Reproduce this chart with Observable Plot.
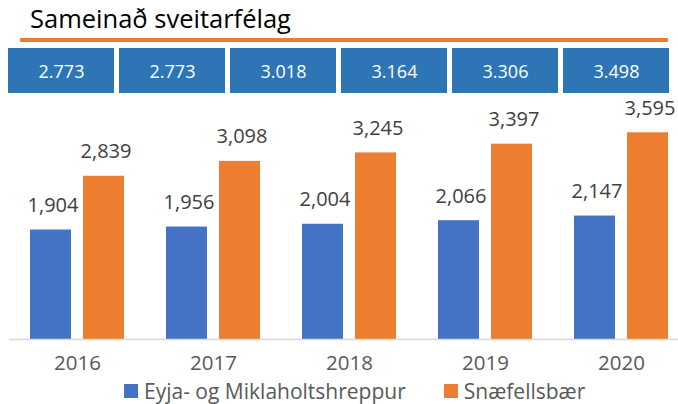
<!DOCTYPE html>
<html>
<head>
<meta charset="utf-8">
<script src="https://cdn.jsdelivr.net/npm/d3@7"></script>
<script src="https://cdn.jsdelivr.net/npm/@observablehq/plot@0.6"></script>
<style>
  html, body { margin: 0; padding: 0; background: #fff; }
  #wrap { position: relative; width: 678px; height: 404px; overflow: hidden; font-family: 'Open Sans', sans-serif; }
  #title { position: absolute; left: 20px; top: 3px; width: 638px; height: 30px; padding: 0 0 5px 10px;
           font-size: 25.5px; line-height: 30px; color: #000; border-bottom: 4px solid #ED7D31; white-space: nowrap; }
  #boxes { position: absolute; left: 0; top: 44px; }
  #chart { position: absolute; left: 0; top: 96px; }
  #legend { position: absolute; left: 124px; top: 381px; }
  #legend > div { font-family: 'Open Sans', sans-serif !important; font-size: 21px !important; color: #595959 !important;
                  display: flex !important; align-items: center !important; margin: 0 !important; min-height: 0 !important;
                  line-height: 20px !important; flex-wrap: nowrap !important; }
  #legend span { display: inline-flex !important; align-items: center !important; margin: 0 38px 0 0 !important; line-height: 20px !important; white-space: nowrap; }
  #legend svg { margin-right: 6px !important; }
</style>
</head>
<body>
<div id="wrap">
  <div id="title"></div>
  <div id="boxes"></div>
  <div id="chart"></div>
  <div id="legend"></div>
</div>
<script>
const titleText = "Sameinað sveitarfélag";
const years = ["2016", "2017", "2018", "2019", "2020"];
const series = ["Eyja- og Miklaholtshreppur", "Snæfellsbær"];
const eyja = [1904, 1956, 2004, 2066, 2147];
const snae = [2839, 3098, 3245, 3397, 3595];
const combined = [2773, 2773, 3018, 3164, 3306, 3498];
const colors = ["#4472C4", "#ED7D31"];

document.getElementById("title").textContent = titleText;

const isFormat = d3.formatLocale({decimal: ",", thousands: ".", grouping: [3], currency: ["", ""]}).format(",");
const enFormat = d3.format(",");

// Top row of boxes
const boxData = combined.map((v, i) => ({i: String(i), v}));
const boxes = Plot.plot({
  width: 678, height: 52,
  marginTop: 4, marginBottom: 3, marginLeft: 7, marginRight: 8,
  style: {fontFamily: "'Open Sans', sans-serif", background: "transparent"},
  x: {type: "band", domain: boxData.map(d => d.i), paddingInner: 0.045, paddingOuter: 0, axis: null},
  marks: [
    Plot.cell(boxData, {x: "i", fill: "#2E75B6"}),
    Plot.text(boxData, {x: "i", text: d => isFormat(d.v), frameAnchor: "middle", fill: "white", fontSize: 18, dy: 1})
  ]
});
document.getElementById("boxes").appendChild(boxes);

// Main grouped bars
const data = [];
years.forEach((y, k) => {
  data.push({year: y, series: series[0], value: eyja[k]});
  data.push({year: y, series: series[1], value: snae[k]});
});

const chart = Plot.plot({
  width: 678, height: 308,
  marginTop: 13, marginBottom: 65, marginLeft: 9, marginRight: -11,
  style: {fontFamily: "'Open Sans', sans-serif", fontSize: "20.5px", color: "#595959", background: "transparent", overflow: "visible"},
  facet: {data, x: "year"},
  fx: {domain: years, padding: 0, axis: "bottom", tickSize: 0, tickPadding: 16, label: null},
  x: {domain: series, paddingInner: 0.217, paddingOuter: 0.39, axis: null},
  y: {domain: [0, 4000], axis: null},
  color: {domain: series, range: colors},
  marks: [
    Plot.barY(data, {x: "series", y: "value", fill: "series"}),
    Plot.ruleY([0], {stroke: "#D9D9D9", strokeWidth: 1.5}),
    Plot.text(data, {x: "series", y: "value", text: d => enFormat(d.value), lineAnchor: "bottom", dy: -18, dx: 2, fontSize: 20, fill: "#404040"})
  ]
});
document.getElementById("chart").appendChild(chart);

const legend = chart.legend("color", {legend: "swatches", swatchSize: 14, className: "lg"});
document.getElementById("legend").appendChild(legend);
</script>
</body>
</html>
